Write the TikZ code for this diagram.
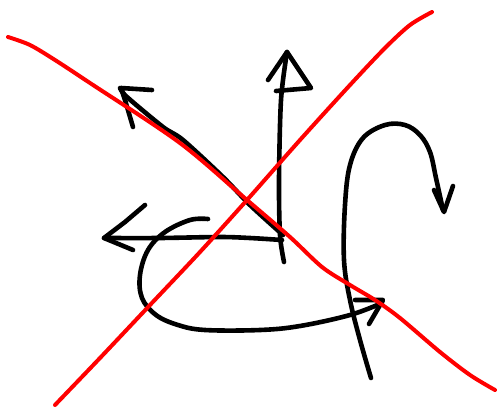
\documentclass[tikz,border=0pt]{standalone}
\begin{document}
\begin{tikzpicture}[x=1pt,y=-1pt,
  ink/.style={line width=4.6pt,line cap=round,line join=round,black},
  redink/.style={line width=4pt,line cap=round,line join=round,red}]
\useasboundingbox (0,0) rectangle (501,408);
% vertical arrow
\draw[ink] plot[smooth,tension=0.5] coordinates {(284,262) (280,235) (279,180) (281,100) (287,52)};
\draw[ink] (268,80) -- (287,52) -- (311,88) -- (276,91);
% horizontal arrow
\draw[ink] plot[smooth,tension=0.5] coordinates {(282,240) (250,238) (220,237) (160,238) (104,238)};
\draw[ink] (145,205) -- (125,222) -- (104,238) -- (133,250);
% diagonal arrow
\draw[ink] plot[smooth,tension=0.5] coordinates {(283,235) (250,205) (223,177) (183,140) (163,127) (127,97) (120,88)};
\draw[ink] (152,90) -- (121,88) -- (125,100) -- (133,127);
% loop
\draw[ink] plot[smooth,tension=0.6] coordinates {(208,219) (190,220) (165,232) (148,250) (140,275) (142,298) (156,315) (178,325) (205,330) (260,330) (300,326) (350,315) (382,303)};
\draw[ink] (355,300) -- (383,300) -- (369,324);
% tall curve
\draw[ink] plot[smooth,tension=0.6] coordinates {(371,378) (360,340) (350,300) (344,260) (345,205) (350,165) (363,138) (385,125) (405,125) (420,135) (430,152) (436,178) (443,210)};
\draw[ink] (434,190) -- (444,212) -- (453,186);
% red lines
\draw[redink] plot[smooth,tension=0.5] coordinates {(8,37) (30,45) (55,60) (90,83) (180,143) (247,200) (290,237) (322,267) (350,285) (375,300) (400,318) (440,352) (470,375) (495,390)};
\draw[redink] plot[smooth,tension=0.5] coordinates {(55,405) (100,358) (150,305) (200,252) (247,200) (300,140) (350,85) (385,48) (410,25) (432,12)};
\end{tikzpicture}
\end{document}
